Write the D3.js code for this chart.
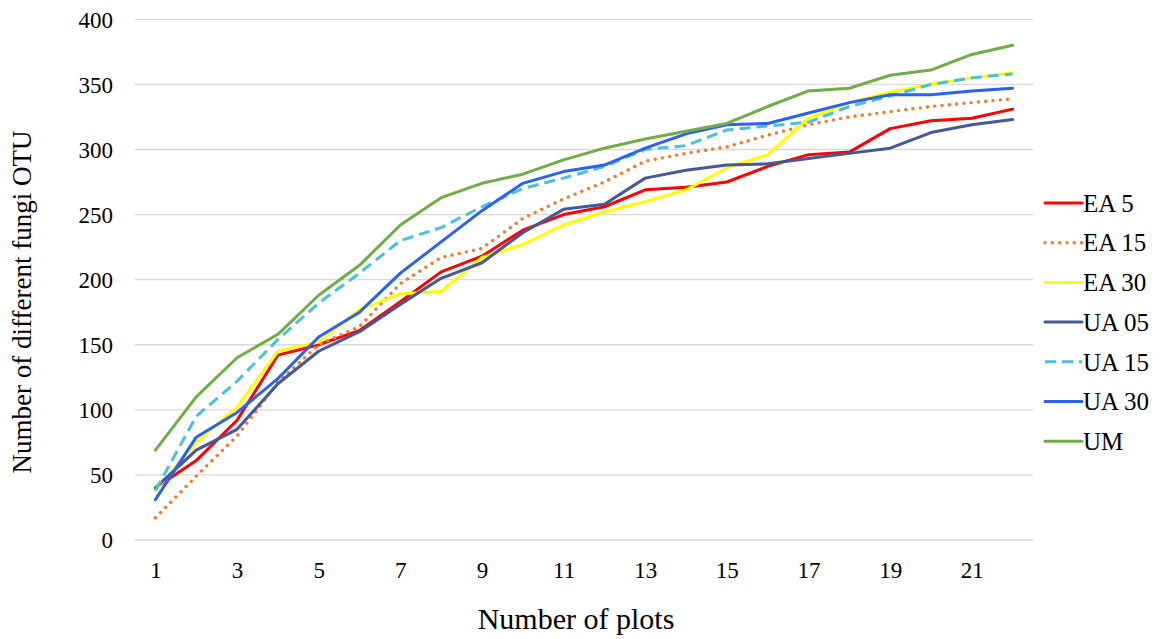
<!DOCTYPE html>
<html>
<head>
<meta charset="utf-8">
<script src="https://cdn.jsdelivr.net/npm/d3@7"></script>
<style>
  html, body { margin: 0; padding: 0; background: #fff; }
  svg text { font-family: "Liberation Serif", Tinos, "Times New Roman", Times, "DejaVu Serif", serif; }
</style>
</head>
<body>
<svg id="chart" width="1161" height="639"></svg>
<script>
// Cumulative number of fungal OTUs by number of sampled plots
const plots = d3.range(1, 23);
const yTicks = [0, 50, 100, 150, 200, 250, 300, 350, 400];
const xTickLabels = [1, 3, 5, 7, 9, 11, 13, 15, 17, 19, 21];

const seriesNames = ["EA 5", "EA 15", "EA 30", "UA 05", "UA 15", "UA 30", "UM"];

const ea5  = [40, 61, 92, 142, 150, 161, 183, 206, 218, 238, 250, 256, 269, 271, 275, 287, 296, 298, 316, 322, 324, 331];
const ea15 = [17, 49, 80, 121, 150, 164, 197, 217, 224, 247, 262, 275, 291, 297, 302, 311, 319, 325, 329, 333, 336, 339];
const ea30 = [38, 75, 102, 145, 152, 177, 189, 191, 217, 227, 242, 252, 260, 269, 286, 296, 324, 336, 344, 350, 355, 359];
const ua05 = [40, 69, 85, 120, 145, 160, 181, 201, 213, 236, 254, 258, 278, 284, 288, 289, 293, 297, 301, 313, 319, 323];
const ua15 = [38, 95, 122, 154, 182, 205, 230, 240, 256, 270, 278, 287, 300, 303, 315, 318, 321, 333, 341, 350, 355, 358];
const ua30 = [31, 79, 98, 124, 156, 175, 205, 229, 253, 274, 283, 288, 301, 312, 319, 320, 328, 336, 342, 342, 345, 347];
const um   = [69, 110, 140, 158, 188, 211, 242, 263, 274, 281, 292, 301, 308, 314, 320, 333, 345, 347, 357, 361, 373, 380];

const seriesValues = [ea5, ea15, ea30, ua05, ua15, ua30, um];

// Line styles per series
const styles = [
  { color: "#FF0000", dash: null,        cap: "round" },
  { color: "#ED7D31", dash: "0.01 7.3",  cap: "round" },
  { color: "#FFFF00", dash: null,        cap: "round" },
  { color: "#44589A", dash: null,        cap: "round" },
  { color: "#4BC0DA", dash: "11 6",      cap: "butt"  },
  { color: "#2B62F4", dash: null,        cap: "round" },
  { color: "#70AD47", dash: null,        cap: "round" }
];

const svg = d3.select("#chart");
const plot = { left: 135, right: 1033, top: 19.3, bottom: 540 };

const x = d3.scalePoint().domain(plots).range([plot.left, plot.right]).padding(0.5);
const y = d3.scaleLinear().domain([0, 400]).range([plot.bottom, plot.top]);

// Horizontal gridlines
svg.append("g")
  .selectAll("line")
  .data(yTicks)
  .join("line")
  .attr("x1", plot.left).attr("x2", plot.right)
  .attr("y1", d => y(d)).attr("y2", d => y(d))
  .attr("stroke", "#d9d9d9").attr("stroke-width", 1.3);

// Y axis labels
const yAxis = svg.append("g")
  .attr("transform", `translate(${plot.left - 22},0)`)
  .call(d3.axisLeft(y).tickValues(yTicks).tickSize(0).tickPadding(0));
yAxis.attr("font-family", null);
yAxis.select(".domain").remove();
yAxis.selectAll("text")
  .attr("font-size", 23).attr("fill", "#000")
  .attr("dy", "0.34em");

// X axis labels
const xAxis = svg.append("g")
  .attr("transform", `translate(0,${plot.bottom + 21})`)
  .call(d3.axisBottom(x).tickValues(xTickLabels).tickSize(0).tickPadding(0));
xAxis.attr("font-family", null);
xAxis.select(".domain").remove();
xAxis.selectAll("text")
  .attr("font-size", 23).attr("fill", "#000")
  .attr("dy", "0.75em");

// Axis titles
svg.append("text")
  .attr("x", 576).attr("y", 629)
  .attr("text-anchor", "middle")
  .attr("font-size", 30).attr("fill", "#000")
  .text("Number of plots");

svg.append("text")
  .attr("transform", "translate(31,302) rotate(-90)")
  .attr("text-anchor", "middle")
  .attr("font-size", 27).attr("fill", "#000")
  .text("Number of different fungi OTU");

// Series lines
const line = d3.line().x((d, i) => x(plots[i])).y(d => y(d));

svg.append("g")
  .selectAll("path")
  .data(seriesValues)
  .join("path")
  .attr("d", d => line(d))
  .attr("fill", "none")
  .attr("stroke", (d, i) => styles[i].color)
  .attr("stroke-width", (d, i) => i === 1 ? 3.4 : 3)
  .attr("stroke-linejoin", "round")
  .attr("stroke-linecap", (d, i) => styles[i].cap)
  .attr("stroke-dasharray", (d, i) => styles[i].dash);

// Legend
const legend = svg.append("g")
  .selectAll("g")
  .data(seriesNames)
  .join("g")
  .attr("transform", (d, i) => `translate(1045,${203 + i * 39.7})`);

legend.append("line")
  .attr("x1", 0).attr("x2", 37)
  .attr("stroke", (d, i) => styles[i].color)
  .attr("stroke-width", (d, i) => i === 1 ? 3.4 : 3)
  .attr("stroke-linecap", (d, i) => styles[i].cap)
  .attr("stroke-dasharray", (d, i) => styles[i].dash);

legend.append("text")
  .attr("x", 38).attr("dy", "0.35em")
  .attr("font-size", 25).attr("fill", "#000")
  .text(d => d);
</script>
</body>
</html>
